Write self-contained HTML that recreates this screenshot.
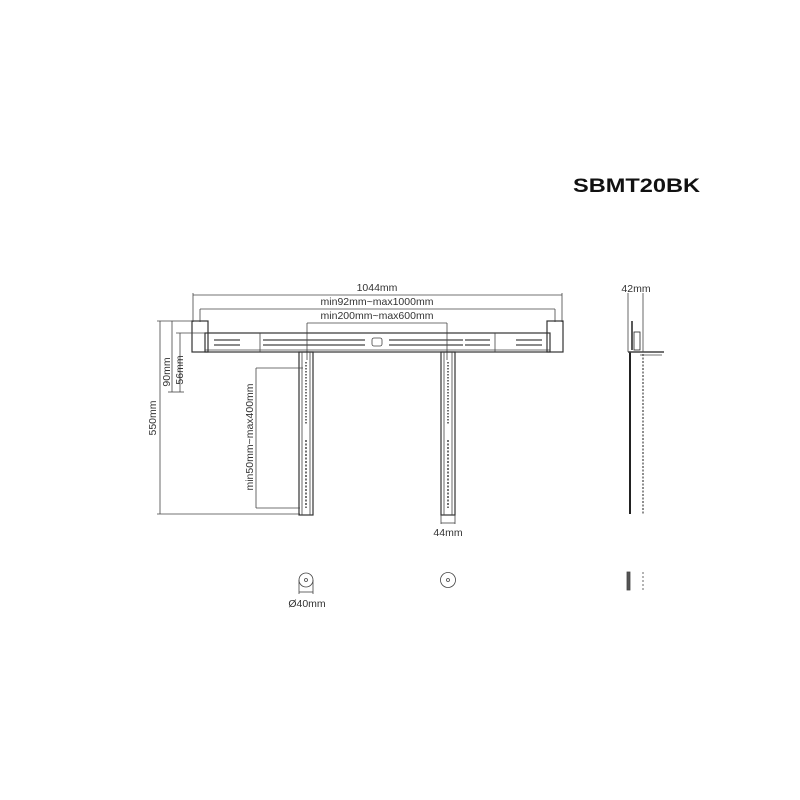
<!DOCTYPE html><html><head><style>body{margin:0;background:#fff}svg{display:block}text{font-family:"Liberation Sans",sans-serif;fill:#333}</style></head><body>
<svg width="800" height="800" viewBox="0 0 800 800" xmlns="http://www.w3.org/2000/svg">
<text x="573" y="192" font-size="19" font-weight="bold" textLength="127" lengthAdjust="spacingAndGlyphs" style="fill:#111">SBMT20BK</text>
<g stroke="#444" stroke-width="0.8" fill="none">
<line x1="193" y1="295" x2="562" y2="295"/><line x1="193" y1="293" x2="193" y2="322"/><line x1="562" y1="293" x2="562" y2="322"/>
<line x1="200" y1="309" x2="555" y2="309"/><line x1="200" y1="309" x2="200" y2="322"/><line x1="555" y1="309" x2="555" y2="322"/>
<line x1="307" y1="323" x2="447" y2="323"/><line x1="307" y1="323" x2="307" y2="360"/><line x1="447" y1="323" x2="447" y2="360"/>
<rect x="205" y="333" width="345" height="19" stroke="#333" stroke-width="1.2"/>
<line x1="205" y1="350" x2="550" y2="350"/>
<rect x="192" y="321" width="16" height="31" stroke="#333" stroke-width="1.2"/>
<rect x="547" y="321" width="16" height="31" stroke="#333" stroke-width="1.2"/>
<line x1="260" y1="333" x2="260" y2="352"/><line x1="495" y1="333" x2="495" y2="352"/>
<rect x="372" y="338" width="10" height="8" rx="2"/>
<g stroke-width="1.2">
<line x1="214" y1="340" x2="240" y2="340"/><line x1="214" y1="345" x2="240" y2="345"/>
<line x1="263" y1="340" x2="292" y2="340"/><line x1="263" y1="345" x2="292" y2="345"/>
<line x1="292" y1="340" x2="365" y2="340"/><line x1="292" y1="345" x2="365" y2="345"/>
<line x1="389" y1="340" x2="463" y2="340"/><line x1="389" y1="345" x2="463" y2="345"/>
<line x1="465" y1="340" x2="490" y2="340"/><line x1="465" y1="345" x2="490" y2="345"/>
<line x1="516" y1="340" x2="542" y2="340"/><line x1="516" y1="345" x2="542" y2="345"/>
</g>
<rect x="299" y="352" width="14" height="163" stroke="#333" stroke-width="1.2"/>
<rect x="441" y="352" width="14" height="163" stroke="#333" stroke-width="1.2"/>
<line x1="302" y1="352" x2="302" y2="515"/><line x1="310" y1="352" x2="310" y2="515"/>
<line x1="444" y1="352" x2="444" y2="515"/><line x1="452" y1="352" x2="452" y2="515"/>
<line x1="306" y1="362" x2="306" y2="425" stroke-dasharray="1.5 1.5" stroke-width="1.5"/>
<line x1="306" y1="440" x2="306" y2="508" stroke-dasharray="2 1.5" stroke-width="1.5"/>
<line x1="448" y1="362" x2="448" y2="425" stroke-dasharray="1.5 1.5" stroke-width="1.5"/>
<line x1="448" y1="440" x2="448" y2="508" stroke-dasharray="2 1.5" stroke-width="1.5"/>
<line x1="157" y1="321" x2="200" y2="321"/><line x1="160" y1="321" x2="160" y2="514"/><line x1="157" y1="514" x2="300" y2="514"/>
<line x1="172" y1="321" x2="172" y2="392"/><line x1="168" y1="392" x2="176" y2="392"/>
<line x1="180" y1="333" x2="180" y2="392"/><line x1="176" y1="333" x2="205" y2="333"/><line x1="176" y1="392" x2="184" y2="392"/>
<line x1="256" y1="368" x2="256" y2="508"/><line x1="256" y1="368" x2="303" y2="368"/><line x1="256" y1="508" x2="300" y2="508"/>
<line x1="441" y1="515" x2="441" y2="524"/><line x1="455" y1="515" x2="455" y2="524"/><line x1="441" y1="523" x2="455" y2="523"/>
<circle cx="306" cy="580" r="7"/><circle cx="306" cy="580" r="1.5"/>
<line x1="299" y1="580" x2="299" y2="594"/><line x1="313" y1="580" x2="313" y2="594"/><line x1="299" y1="592" x2="313" y2="592"/>
<circle cx="448" cy="580" r="7.5"/><circle cx="448" cy="580" r="1.5"/>
<rect x="627" y="572" width="3" height="18" fill="#555"/>
<line x1="643" y1="572" x2="643" y2="590" stroke-dasharray="2 2"/>
<line x1="628" y1="293" x2="628" y2="352"/><line x1="643" y1="293" x2="643" y2="352"/>
<line x1="630" y1="352" x2="630" y2="514" stroke="#222" stroke-width="2"/>
<line x1="643" y1="354" x2="643" y2="514" stroke-dasharray="2 1.5" stroke-width="1.2"/>
<line x1="632" y1="321" x2="632" y2="350" stroke="#222" stroke-width="1.5"/>
<rect x="634" y="332" width="6" height="18" stroke="#222"/>
<line x1="628" y1="352" x2="664" y2="352" stroke-width="1.5"/>
<line x1="640" y1="355" x2="662" y2="355"/>
</g>
<g font-size="10.5" text-anchor="middle">
<text x="377" y="291">1044mm</text>
<text x="377" y="305">min92mm~max1000mm</text>
<text x="377" y="319">min200mm~max600mm</text>
<text x="448" y="536">44mm</text>
<text x="307" y="607">Ø40mm</text>
<text x="636" y="292">42mm</text>
<text transform="translate(156,418) rotate(-90)">550mm</text>
<text transform="translate(170,372) rotate(-90)">90mm</text>
<text transform="translate(183,370) rotate(-90)">56mm</text>
<text transform="translate(253,437) rotate(-90)">min50mm~max400mm</text>
</g>
</svg></body></html>
